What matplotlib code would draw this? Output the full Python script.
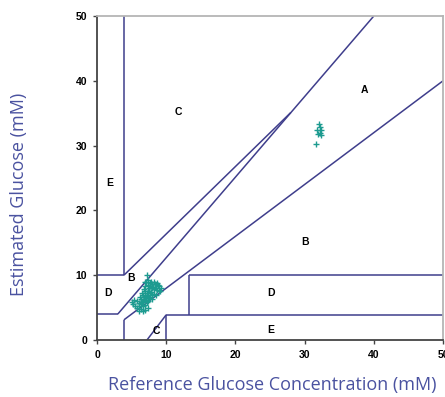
import matplotlib
matplotlib.use('Agg')
import matplotlib.pyplot as plt

# Clarke-style error grid (mM), boundary segments as (x0, x1), (y0, y1)
GRID_SEGMENTS = [
    ((3.89, 3.89), (10, 50)),       # upper vertical
    ((0, 3.89), (10, 10)),          # top of left D
    ((3.89, 28.0), (10, 35.1)),     # upper B/C border
    ((0, 3.0), (4.0, 4.0)),         # bottom of left D
    ((3.0, 40.0), (4.0, 50)),       # upper A border
    ((3.89, 3.89), (0, 3.11)),      # lower vertical
    ((3.89, 50), (3.11, 40)),       # lower A border
    ((7.22, 10), (0, 3.89)),        # lower C diagonal
    ((10, 10), (0, 3.89)),          # lower E vertical
    ((10, 50), (3.89, 3.89)),       # top of lower E
    ((13.3, 13.3), (3.89, 10)),     # left of right D
    ((13.3, 50), (10, 10)),         # top of right D
]

ZONE_LABELS = ['A', 'B', 'B', 'C', 'C', 'D', 'D', 'E', 'E']
ZONE_X = [38.7, 4.9, 30.1, 11.7, 8.6, 1.6, 25.1, 1.9, 25.1]
ZONE_Y = [38.6, 9.5, 15.2, 35.2, 1.4, 7.2, 7.3, 24.2, 1.5]

# measured points (reference, estimated)
ref = [7.2, 6.9, 7.1, 7.4, 7.6, 7.8, 8.0, 8.2, 8.4, 8.6, 8.8, 9.0, 9.3,
       7.0, 7.3, 7.5, 7.7, 7.9, 8.1, 8.3, 8.5, 8.7, 8.9, 9.1,
       6.8, 7.0, 7.2, 7.4, 7.6, 7.8, 8.0, 8.2, 8.5,
       6.5, 6.7, 6.9, 7.1, 7.3, 7.5, 7.7, 7.9,
       6.2, 6.4, 6.6, 6.8, 7.0, 7.2, 7.4,
       5.8, 6.0, 6.3, 6.5, 6.7, 6.9,
       5.2, 5.5, 5.8, 6.1, 6.4, 5.0, 5.4, 6.0, 6.6, 7.0, 7.3,
       32.1, 32.2, 31.8, 32.4, 32.2, 32.0, 32.3, 31.6]
est = [10.0, 8.9, 9.0, 9.2, 8.8, 9.0, 8.7, 8.9, 8.6, 8.8, 8.5, 8.3, 8.1,
       8.3, 8.5, 8.1, 8.4, 8.0, 8.2, 7.8, 8.0, 7.7, 7.5, 7.6,
       7.8, 7.6, 7.3, 7.6, 7.2, 7.4, 7.0, 7.1, 6.9,
       7.3, 7.0, 6.8, 6.6, 6.9, 6.5, 6.7, 6.3,
       6.6, 6.3, 6.0, 6.4, 6.1, 5.8, 6.0,
       6.0, 5.7, 5.5, 5.9, 5.2, 5.4,
       5.6, 5.3, 5.0, 5.2, 4.8, 5.9, 6.1, 4.5, 4.4, 4.7, 5.0,
       33.3, 32.8, 32.4, 32.4, 32.0, 31.8, 31.6, 30.2]

LINE_COLOR = '#3f3e8c'
POINT_COLOR = '#1d9b90'
LABEL_COLOR = '#4a52a0'

fig = plt.figure(figsize=(4.45, 3.97), dpi=100)
ax = fig.add_axes([0.218, 0.1436, 0.7775, 0.816])

for xs, ys in GRID_SEGMENTS:
    ax.plot(xs, ys, color=LINE_COLOR, linewidth=1.1, solid_capstyle='butt')

ax.scatter(ref, est, marker='+', s=16, color=POINT_COLOR, linewidths=1.0, zorder=3)

for lab, x, y in zip(ZONE_LABELS, ZONE_X, ZONE_Y):
    ax.text(x, y, lab, fontsize=7.5, fontweight='bold', ha='center', va='center',
            family='Liberation Sans')

ax.set_xlim(0, 50)
ax.set_ylim(0, 50)
ax.set_xticks([0, 10, 20, 30, 40, 50])
ax.set_yticks([0, 10, 20, 30, 40, 50])
for lbl in ax.get_xticklabels() + ax.get_yticklabels():
    lbl.set_fontsize(7.5)
    lbl.set_fontweight('bold')
    lbl.set_family('Liberation Sans')
ax.tick_params(direction='out', length=3, width=1, color='#444444', pad=4)

ax.spines['left'].set_color('#444444')
ax.spines['bottom'].set_color('#444444')
ax.spines['left'].set_linewidth(1.3)
ax.spines['bottom'].set_linewidth(1.3)
ax.spines['top'].set_color('#b5b5b5')
ax.spines['right'].set_color('#b5b5b5')
ax.spines['top'].set_linewidth(1.3)
ax.spines['right'].set_linewidth(1.3)

fig.text(0.611, 0.03, 'Reference Glucose Concentration (mM)', fontsize=13,
         color=LABEL_COLOR, ha='center', va='center', family='Open Sans')
fig.text(0.042, 0.51, 'Estimated Glucose (mM)', fontsize=13, rotation=90,
         color=LABEL_COLOR, ha='center', va='center', family='Open Sans')

fig.savefig('out.png', dpi=100)
